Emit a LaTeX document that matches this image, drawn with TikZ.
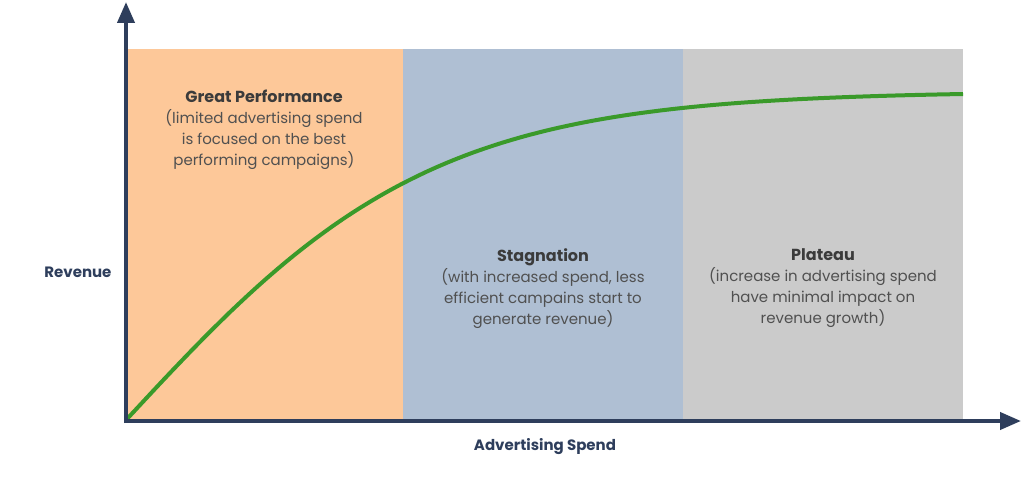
\documentclass[tikz,border=0pt]{standalone}
\usepackage{fontspec}
\setmainfont{Poppins}
\usetikzlibrary{arrows.meta}
\definecolor{axisnavy}{RGB}{46,62,92}
\definecolor{zoneorange}{RGB}{253,200,153}
\definecolor{zoneblue}{RGB}{175,191,211}
\definecolor{zonegray}{RGB}{203,203,203}
\definecolor{curvegreen}{RGB}{58,154,42}
\definecolor{titlegray}{RGB}{59,59,59}
\definecolor{bodygray}{RGB}{80,80,80}
\tikzset{
  axisline/.style={line width=4pt, axisnavy, -{Triangle[width=17pt,length=21pt]}},
  zonetext/.style={align=center, text=bodygray, font=\fontsize{15}{21}\selectfont, anchor=north},
  axislabel/.style={text=axisnavy, font=\bfseries\fontsize{15}{18}\selectfont},
}
\newcommand{\zonetitle}[1]{{\color{titlegray}\bfseries\fontsize{16}{21}\selectfont #1}}

\begin{document}
\begin{tikzpicture}[x=1pt,y=-1pt]
\useasboundingbox (0,0) rectangle (1024,478);
%%Zones
\fill[zoneorange] (128,49) rectangle (403,419);
\fill[zoneblue] (403,49) rectangle (683,419);
\fill[zonegray] (683,49) rectangle (963,419);

%%Curve
\draw[curvegreen, line width=4pt] plot[domain=0:837, samples=90] ({126+\x}, {420-328.7*tanh(\x/305)});

%%Axis
\coordinate (ybase) at (126,423);
\coordinate (ytip) at (126,2);
\coordinate (xbase) at (124,421);
\coordinate (xtip) at (1021,421);
\draw[axisline] (ybase) -- (ytip);
\draw[axisline] (xbase) -- (xtip);

%%Label
\node[zonetext] (great) at (264,86) {\zonetitle{Great Performance}\\(limited advertising spend\\is focused on the best\\performing campaigns)};
\node[zonetext] (stag) at (543,245) {\zonetitle{Stagnation}\\(with increased spend, less\\efficient campains start to\\generate revenue)};
\node[zonetext] (plat) at (823,245) {\zonetitle{Plateau}\\(increase in advertising spend\\have minimal impact on\\revenue growth)};
\node[axislabel, anchor=east] (rev) at (115,272) {Revenue};
\node[axislabel] (spend) at (545,447) {Advertising Spend};

\end{tikzpicture}
\end{document}
